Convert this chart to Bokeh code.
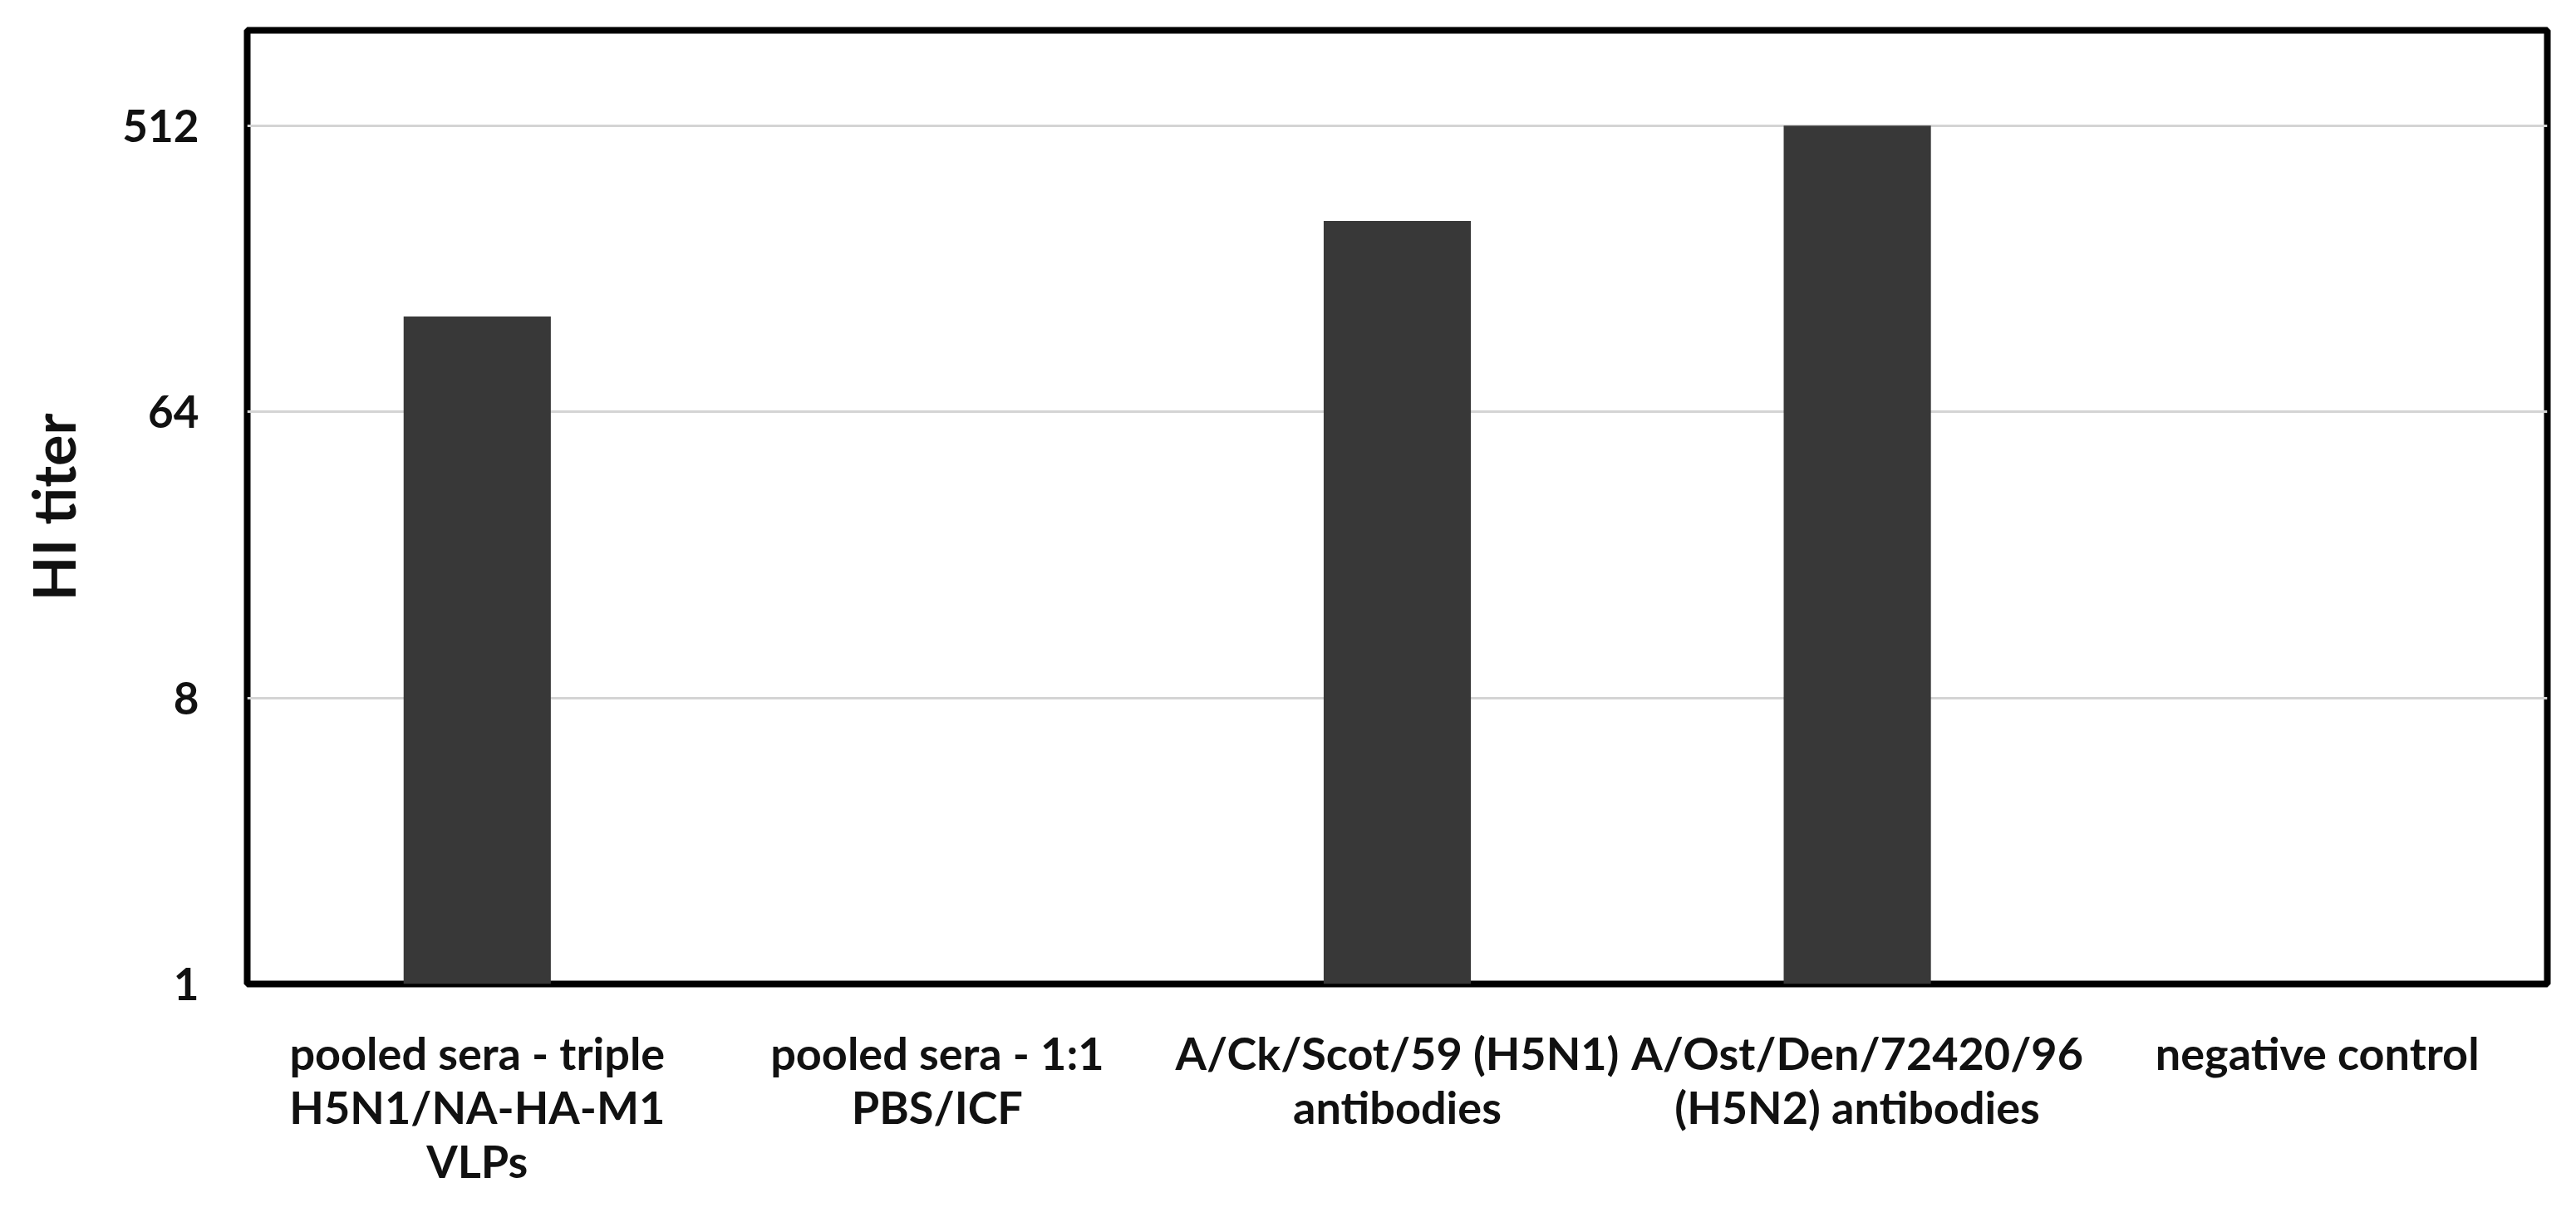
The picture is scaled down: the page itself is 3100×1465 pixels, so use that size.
from bokeh.plotting import figure
from bokeh.models import Range1d, FactorRange, FixedTicker
from bokeh.embed import file_html
from bokeh.resources import INLINE

# ---- data ----
categories = [
    "pooled sera - triple\nH5N1/NA-HA-M1\nVLPs",
    "pooled sera - 1:1\nPBS/ICF",
    "A/Ck/Scot/59 (H5N1)\nantibodies",
    "A/Ost/Den/72420/96\n(H5N2) antibodies",
    "negative control",
]
hi_titer = [128, 1, 256, 512, 1]
y_ticks = [1, 8, 64, 512]
y_tick_labels = ["1", "8", "64", "512"]
y_min, y_max = 1, 1024

W, H = 3084, 1449
p = figure(
    width=W, height=H,
    x_range=FactorRange(*categories, range_padding=0),
    y_range=Range1d(y_min, y_max),
    y_axis_type="log",
    output_backend="svg",
    toolbar_location=None,
    min_border_left=297, min_border_right=19,
    min_border_top=36, min_border_bottom=265,
)

p.vbar(x=categories, top=hi_titer, bottom=y_min, width=0.32,
       fill_color="#383838", line_color=None)

# frame
p.outline_line_color="black"
p.outline_line_width=8
p.background_fill_color="white"
p.border_fill_color="white"

# grids
p.xgrid.grid_line_color=None
p.ygrid.grid_line_color="#d4d4d4"
p.ygrid.grid_line_width=3

# y axis
ya = p.yaxis[0]
ya.ticker = FixedTicker(ticks=y_ticks, minor_ticks=[])
ya.major_label_overrides = {t: l for t, l in zip(y_ticks, y_tick_labels)}
ya.axis_line_color=None
ya.major_tick_line_color=None
ya.minor_tick_line_color=None
ya.major_label_text_font="Lato"
ya.major_label_text_font_style="bold"
ya.major_label_text_font_size="53px"
ya.major_label_text_color="#111111"
ya.major_label_standoff=52
ya.axis_label="HI titer"
ya.axis_label_text_font="Lato"
ya.axis_label_text_font_style="bold"
ya.axis_label_text_font_size="70px"
ya.axis_label_text_color="#111111"
ya.axis_label_standoff=38

# x axis
xa = p.xaxis[0]
xa.axis_line_color=None
xa.major_tick_line_color=None
xa.minor_tick_line_color=None
xa.major_label_text_font="Lato"
xa.major_label_text_font_style="bold"
xa.major_label_text_font_size="54px"
xa.major_label_text_color="#111111"
xa.major_label_text_line_height=1.0
xa.major_label_standoff=44
xa.major_label_orientation="horizontal"

open("out.html", "w").write(file_html(p, INLINE))
